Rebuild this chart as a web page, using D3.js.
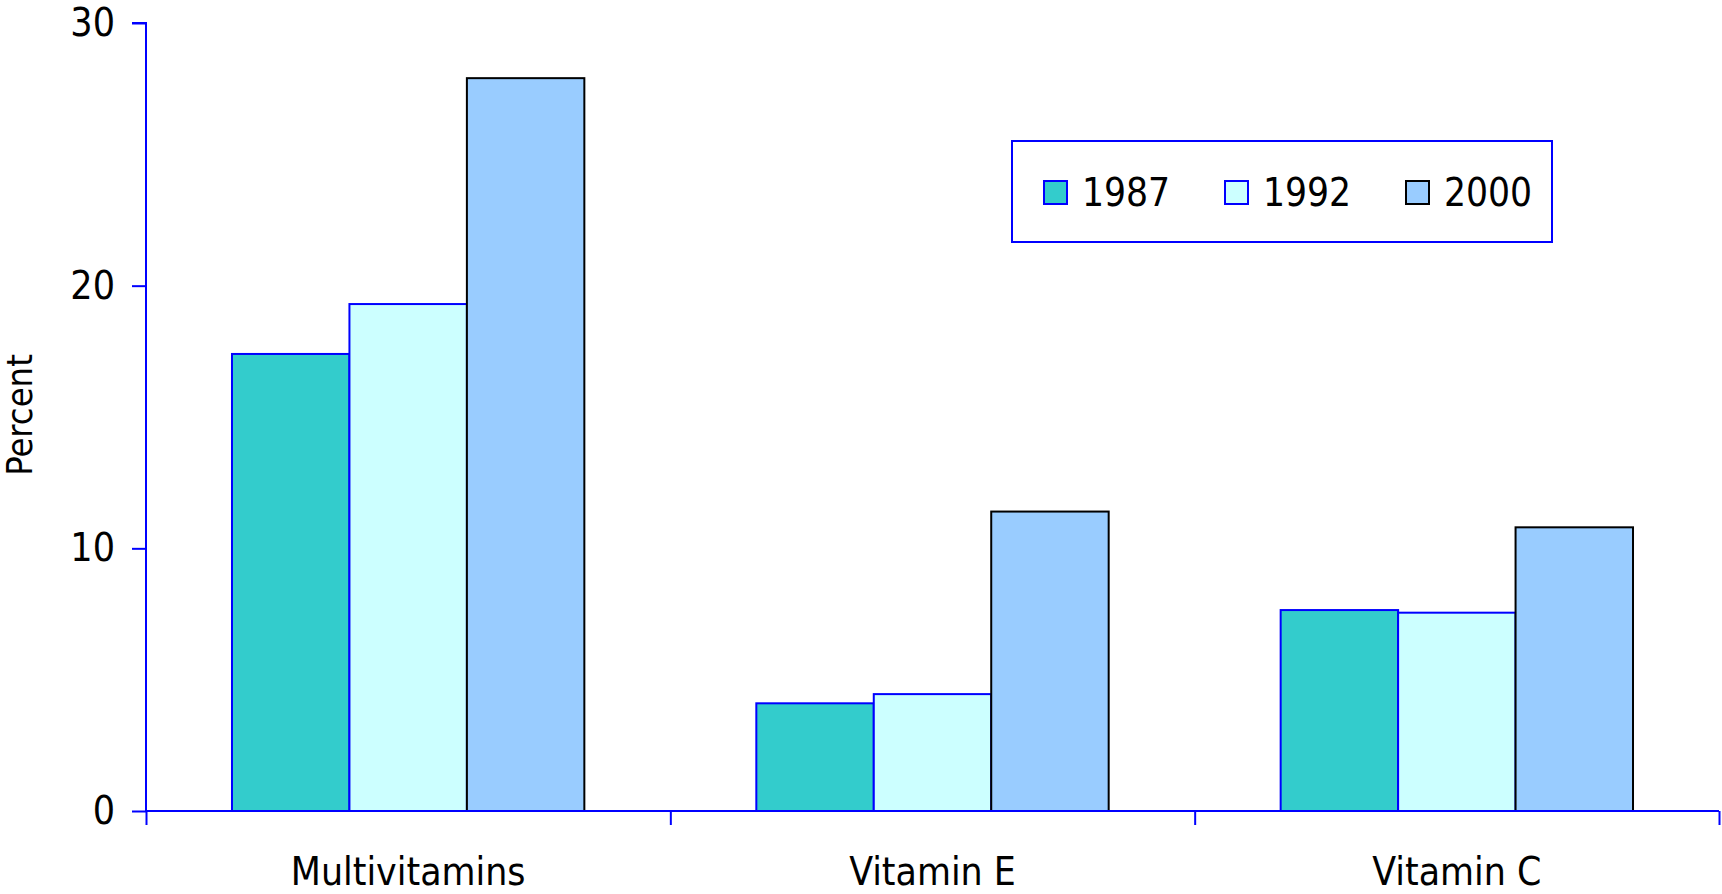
<!DOCTYPE html>
<html>
<head>
<meta charset="utf-8">
<script src="https://cdn.jsdelivr.net/npm/d3@7"></script>
<style>
  body { margin: 0; background: #fff; }
  text { font-family: "DejaVu Sans Condensed", "DejaVu Sans", sans-serif; fill: #000; }
</style>
</head>
<body>
<svg id="chart" width="1722" height="894"></svg>
<script>
const categories = ['Multivitamins', 'Vitamin E', 'Vitamin C'];
const years = ['1987', '1992', '2000'];
const values1987 = [17.4, 4.1, 7.65];
const values1992 = [19.3, 4.45, 7.55];
const values2000 = [27.9, 11.4, 10.8];
const yTicks = [0, 10, 20, 30];

const fills = ['#33cccc', '#ccffff', '#99ccff'];
const strokes = ['#0000ff', '#0000ff', '#000000'];
const series = [values1987, values1992, values2000];

const margin = {left: 146, top: 23, right: 3, bottom: 83};
const width = 1722, height = 894;
const svg = d3.select('#chart');

const x = d3.scaleBand().domain(categories).range([margin.left, width - margin.right]);
const xInner = d3.scaleBand().domain(years)
    .range([x.bandwidth() * 0.164, x.bandwidth() * 0.836]);
const y = d3.scaleLinear().domain([0, 30]).range([height - margin.bottom, margin.top]);

// bars
categories.forEach((c, ci) => {
    const g = svg.append('g').attr('transform', `translate(${x(c)},0)`);
    g.selectAll('rect').data(years).enter().append('rect')
        .attr('x', (d) => xInner(d))
        .attr('width', xInner.bandwidth())
        .attr('y', (d, i) => y(series[i][ci]))
        .attr('height', (d, i) => y(0) - y(series[i][ci]))
        .attr('fill', (d, i) => fills[i])
        .attr('stroke', (d, i) => strokes[i])
        .attr('stroke-width', 2);
});

// y axis
const yAxis = svg.append('g')
    .attr('transform', `translate(${margin.left},0)`)
    .call(d3.axisLeft(y).tickValues(yTicks).tickSize(14).tickPadding(17));
yAxis.selectAll('line, path').attr('stroke', '#0000ff').attr('stroke-width', 2);
yAxis.select('.domain').attr('d', `M-14,${y(30)}H0V${y(0)}`);
yAxis.selectAll('text').style('font-size', '39px')
    .style('font-family', '"DejaVu Sans Condensed", "DejaVu Sans", sans-serif').attr('fill', '#000');

// x axis: ticks at category boundaries
const xEdges = d3.scaleLinear().domain([0, categories.length]).range([margin.left, width - margin.right]);
const xAxis = svg.append('g')
    .attr('transform', `translate(0,${y(0)})`)
    .call(d3.axisBottom(xEdges).tickValues(d3.range(categories.length + 1)).tickSize(14).tickFormat(''));
xAxis.selectAll('line, path').attr('stroke', '#0000ff').attr('stroke-width', 2);
xAxis.select('.domain').attr('d', `M${margin.left},0H${width - margin.right}`);

svg.append('g').selectAll('text').data(categories).enter().append('text')
    .attr('x', (d) => x(d) + x.bandwidth() / 2)
    .attr('y', 885)
    .attr('text-anchor', 'middle')
    .style('font-size', '38.8px')
    .text((d) => d);

// y label
svg.append('text')
    .attr('transform', `translate(32,415) rotate(-90)`)
    .attr('text-anchor', 'middle')
    .style('font-size', '36px')
    .text('Percent');

// legend
const legend = svg.append('g').attr('transform', 'translate(1012,141)');
legend.append('rect')
    .attr('width', 540).attr('height', 101)
    .attr('fill', '#fff').attr('stroke', '#0000ff').attr('stroke-width', 2);
const item = legend.selectAll('g.item').data(years).enter().append('g')
    .attr('class', 'item')
    .attr('transform', (d, i) => `translate(${32 + i * 181},40)`);
item.append('rect')
    .attr('width', 23).attr('height', 23)
    .attr('fill', (d, i) => fills[i])
    .attr('stroke', (d, i) => strokes[i])
    .attr('stroke-width', 2);
item.append('text')
    .attr('x', 38).attr('y', 25)
    .style('font-size', '38.5px')
    .text((d) => d);
</script>
</body>
</html>
